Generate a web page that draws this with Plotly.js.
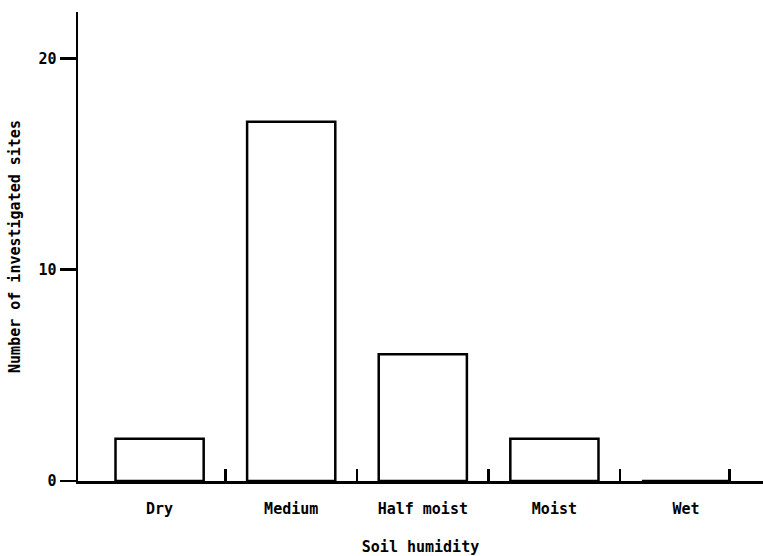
<!DOCTYPE html>
<html>
<head>
<meta charset="utf-8">
<script src="https://cdn.plot.ly/plotly-3.0.1.min.js"></script>
<style>html,body{margin:0;padding:0;background:#fff;}#chart{width:763px;height:556px;}</style>
</head>
<body>
<div id="chart"></div>
<script>
const categories = ["Dry", "Medium", "Half moist", "Moist", "Wet"];
const sites = [2, 17, 6, 2, 0];
const yTicks = [0, 10, 20];
const xBoundaryTicks = [0.5, 1.5, 2.5, 3.5, 4.33];

const font = {family: "DejaVu Sans Mono, monospace", size: 15, color: "#000", weight: "bold"};
const positions = categories.map((c, i) => i);

const trace = {
  type: "bar",
  x: positions,
  y: sites,
  width: 0.67,
  marker: {color: "#fff", line: {color: "#000", width: 2.5}},
  hoverinfo: "skip"
};

const layout = {
  width: 763, height: 556,
  margin: {l: 78, r: 0, t: 12, b: 75},
  paper_bgcolor: "#fff", plot_bgcolor: "#fff",
  showlegend: false,
  font: font,
  xaxis: {
    type: "linear",
    range: [-0.62, 4.585],
    tickmode: "array",
    tickvals: positions,
    ticktext: categories,
    ticks: "",
    ticklabelstandoff: 12,
    tickfont: font,
    showgrid: false, zeroline: false,
    showline: true, linecolor: "#000", linewidth: 2.5,
    minor: {tickmode: "array", tickvals: xBoundaryTicks, ticks: "inside", ticklen: 12, tickwidth: 2.5, tickcolor: "#000", showgrid: false},
    title: {text: "Soil humidity", font: font, standoff: 26},
    fixedrange: true
  },
  yaxis: {
    range: [0, 22.2],
    tickmode: "array",
    tickvals: yTicks,
    ticks: "outside", ticklen: 16, tickwidth: 2.5, tickcolor: "#000",
    tickfont: font,
    showgrid: false, zeroline: false,
    showline: true, linecolor: "#000", linewidth: 2.5,
    title: {text: "Number of investigated sites", font: font, standoff: 14},
    fixedrange: true
  }
};

Plotly.newPlot("chart", [trace], layout, {displayModeBar: false, staticPlot: true});
</script>
</body>
</html>
